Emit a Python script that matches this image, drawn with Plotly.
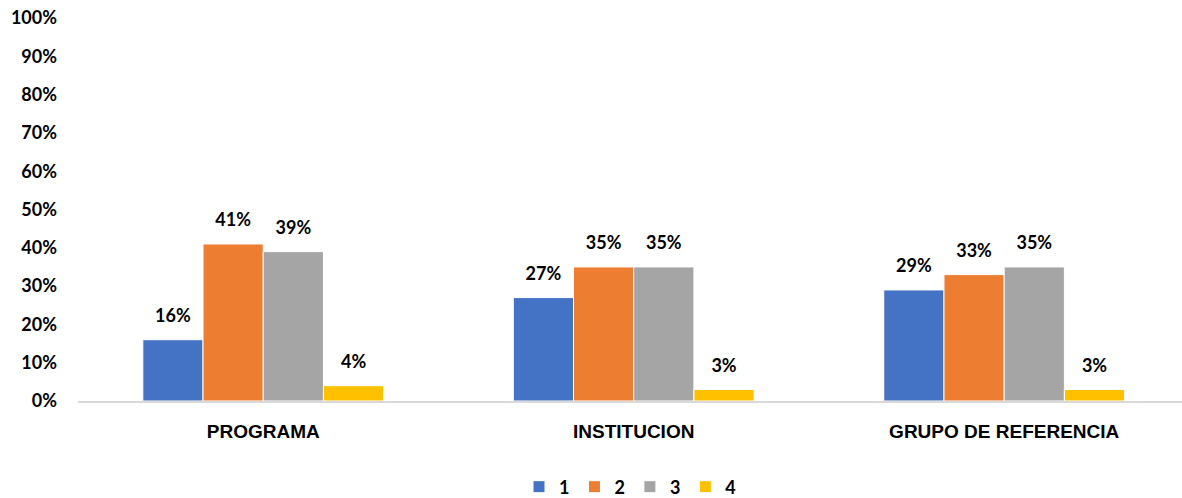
import plotly.graph_objects as go

categories = ["PROGRAMA", "INSTITUCION", "GRUPO DE REFERENCIA"]
series_names = ["1", "2", "3", "4"]
values_1 = [0.16, 0.27, 0.29]
values_2 = [0.41, 0.35, 0.33]
values_3 = [0.39, 0.35, 0.35]
values_4 = [0.04, 0.03, 0.03]
colors = ["#4472C4", "#ED7D31", "#A5A5A5", "#FFC000"]
y_ticks = [0, 0.1, 0.2, 0.3, 0.4, 0.5, 0.6, 0.7, 0.8, 0.9, 1.0]

all_values = [values_1, values_2, values_3, values_4]

fig = go.Figure()
for name, vals, col in zip(series_names, all_values, colors):
    fig.add_trace(go.Bar(
        x=categories, y=vals, name=name,
        marker=dict(color=col, line=dict(color="#ffffff", width=1)),
        cliponaxis=False,
    ))
# data labels, aligned with the grouped bars
for name, vals in zip(series_names, all_values):
    fig.add_trace(go.Scatter(
        x=categories, y=vals, mode="markers+text", showlegend=False,
        marker=dict(size=20, opacity=0),
        text=[f"{round(v*100)}%" for v in vals],
        textposition="top center",
        textfont=dict(family="Lato", size=18, color="#000000", weight="bold"),
        cliponaxis=False, hoverinfo="skip",
    ))

fig.update_layout(
    width=1182, height=510,
    margin=dict(l=78, r=0, t=18, b=109),
    plot_bgcolor="white", paper_bgcolor="white",
    barmode="group", bargap=0.35, bargroupgap=0,
    scattermode="group", scattergap=0.35,
    font=dict(family="Lato", color="#000000"),
    legend=dict(orientation="h", x=0.5, xanchor="center", y=-0.2245, yanchor="middle",
                font=dict(family="Lato", size=18, color="#000000", weight="bold"),
                traceorder="normal"),
    xaxis=dict(range=[-0.5, 2.48], showline=True, linecolor="#D9D9D9", linewidth=2,
               ticks="", automargin=False, ticklabelstandoff=12,
               tickfont=dict(family="Liberation Sans", size=19, color="#000000", weight="bold")),
    yaxis=dict(range=[0, 1.0], tickvals=y_ticks, tickformat=".0%", showgrid=False,
               zeroline=False, showline=False, ticks="", automargin=False, ticklabelstandoff=20,
               ticklabeloverflow="allow",
               tickfont=dict(family="Lato", size=18, color="#000000", weight="bold")),
)

fig.write_html(
    "out.html",
    config={"displayModeBar": False},
    post_script="document.body.style.margin='0';document.body.style.overflow='hidden';",
)
